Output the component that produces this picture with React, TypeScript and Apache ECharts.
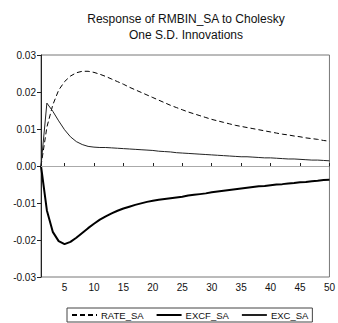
import React, { useEffect, useRef } from "react";
import * as echarts from "echarts";

const periods: string[] = Array.from({ length: 50 }, (_, i) => String(i + 1));

const rateSA: number[] = [
  0, 0.0105, 0.0165, 0.0205, 0.0228, 0.0243, 0.0252, 0.0256, 0.0256, 0.0253,
  0.0248, 0.0242, 0.0235, 0.0228, 0.0221, 0.0213, 0.0206, 0.0199, 0.0192, 0.0185,
  0.0178, 0.0171, 0.0164, 0.0158, 0.0152, 0.0146, 0.0141, 0.0136, 0.0131, 0.0126,
  0.0122, 0.0118, 0.0114, 0.011, 0.0107, 0.0104, 0.0101, 0.0098, 0.0095, 0.0092,
  0.0089, 0.0086, 0.0084, 0.0081, 0.0079, 0.0076, 0.0074, 0.0072, 0.0069, 0.0067,
];

const excfSA: number[] = [
  0, -0.012, -0.0178, -0.0203, -0.0211, -0.0205, -0.0194, -0.0181, -0.0168, -0.0156,
  -0.0145, -0.0136, -0.0128, -0.0121, -0.0115, -0.011, -0.0105, -0.0101, -0.0097, -0.0094,
  -0.0091, -0.0089, -0.0087, -0.0085, -0.0083, -0.008, -0.0078, -0.0076, -0.0074, -0.0071,
  -0.0069, -0.0067, -0.0065, -0.0063, -0.0061, -0.0059, -0.0057, -0.0055, -0.0054, -0.0052,
  -0.005, -0.0049, -0.0047, -0.0046, -0.0044, -0.0043, -0.0041, -0.004, -0.0038, -0.0037,
];

const excSA: number[] = [
  0, 0.017, 0.0148, 0.0122, 0.0098, 0.0079, 0.0066, 0.0058, 0.0053, 0.0051,
  0.005, 0.005, 0.0049, 0.0048, 0.0047, 0.0046, 0.0045, 0.0044, 0.0043, 0.0042,
  0.004, 0.0039, 0.0038, 0.0036, 0.0035, 0.0034, 0.0033, 0.0032, 0.0031, 0.003,
  0.0029, 0.0028, 0.0027, 0.0026, 0.0025, 0.0025, 0.0024, 0.0023, 0.0022, 0.0022,
  0.0021, 0.002, 0.0019, 0.0019, 0.0018, 0.0017, 0.0016, 0.0016, 0.0015, 0.0014,
];

const titleLines: string[] = ["Response of RMBIN_SA to Cholesky", "One S.D. Innovations"];
const seriesNames: string[] = ["RATE_SA", "EXCF_SA", "EXC_SA"];

const FONT = "'Liberation Sans', Arial, sans-serif";

export default function App() {
  const ref = useRef<HTMLDivElement>(null);

  useEffect(() => {
    if (!ref.current) return;
    const chart = echarts.init(ref.current, undefined, { renderer: "svg" });
    const showEvery5 = (_idx: number, value: string) => Number(value) % 5 === 0;
    chart.setOption({
      animation: false,
      backgroundColor: "#ffffff",
      graphic: [
        {
          type: "text",
          x: 186,
          y: 19,
          style: {
            text: titleLines[0],
            textAlign: "center",
            textVerticalAlign: "middle",
            font: `12px ${FONT}`,
            fill: "#111",
          },
        },
        {
          type: "text",
          x: 186,
          y: 35,
          style: {
            text: titleLines[1],
            textAlign: "center",
            textVerticalAlign: "middle",
            font: `12px ${FONT}`,
            fill: "#111",
          },
        },
      ],
      grid: {
        left: 41,
        right: 3,
        top: 55,
        bottom: 46,
        show: true,
        borderColor: "#777",
        borderWidth: 1,
        backgroundColor: "transparent",
      },
      legend: {
        left: 67,
        top: 308,
        orient: "horizontal",
        borderColor: "#444",
        borderWidth: 1,
        padding: [2, 4, 2, 4],
        itemWidth: 25,
        itemHeight: 8,
        itemGap: 12,
        itemStyle: { opacity: 0 },
        textStyle: { fontSize: 9.5, fontFamily: FONT, color: "#111", padding: [0, 0, 0, -1] },
        data: seriesNames,
      },
      xAxis: {
        type: "category",
        data: periods,
        boundaryGap: false,
        axisLine: { lineStyle: { color: "#222", width: 1 } },
        axisTick: { show: true, inside: true, length: 3, interval: showEvery5, lineStyle: { color: "#222" } },
        axisLabel: {
          interval: showEvery5,
          fontSize: 10,
          fontFamily: FONT,
          color: "#111",
          margin: 5,
        },
        splitLine: { show: false },
      },
      yAxis: {
        type: "value",
        min: -0.03,
        max: 0.03,
        interval: 0.01,
        axisLine: { show: true, lineStyle: { color: "#222", width: 1 } },
        axisTick: { show: true, inside: false, length: 4, lineStyle: { color: "#222" } },
        axisLabel: {
          fontSize: 10,
          fontFamily: FONT,
          color: "#111",
          margin: 5,
          formatter: (v: number) => v.toFixed(2),
        },
        splitLine: { show: false },
      },
      series: [
        {
          name: seriesNames[0],
          type: "line",
          data: rateSA,
          showSymbol: false,
          symbol: "none",
          color: "#000",
          lineStyle: { color: "#000", width: 1, type: [5, 3] },
          markLine: {
            silent: true,
            symbol: "none",
            label: { show: false },
            lineStyle: { color: "#aaa", width: 1, type: "solid" },
            data: [{ yAxis: 0 }],
          },
          z: 3,
        },
        {
          name: seriesNames[1],
          type: "line",
          data: excfSA,
          showSymbol: false,
          symbol: "none",
          color: "#000",
          lineStyle: { color: "#000", width: 2 },
          z: 3,
        },
        {
          name: seriesNames[2],
          type: "line",
          data: excSA,
          showSymbol: false,
          symbol: "none",
          color: "#000",
          lineStyle: { color: "#222", width: 1 },
          z: 3,
        },
      ],
    });
    return () => chart.dispose();
  }, []);

  return (
    <div
      ref={ref}
      style={{ position: "fixed", left: 0, top: 0, width: 338, height: 323, background: "#fff" }}
    />
  );
}
